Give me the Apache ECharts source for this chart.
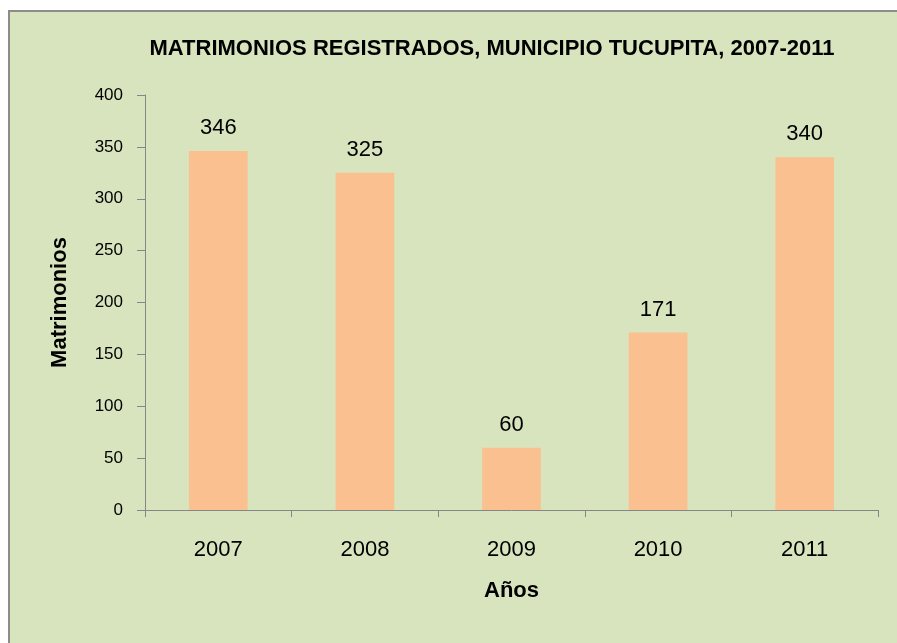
<!DOCTYPE html>
<html>
<head>
<meta charset="utf-8">
<script src="https://cdn.jsdelivr.net/npm/echarts@6/dist/echarts.min.js"></script>
<style>
html,body{margin:0;padding:0;background:#fff;}
#c{width:897px;height:643px;}
</style>
</head>
<body>
<div id="c"></div>
<script>
const categories = ['2007','2008','2009','2010','2011'];
const values = [346, 325, 60, 171, 340];
const yTicks = [0, 400, 50];

const FONT = '"Liberation Sans Narrow","Arial Narrow","Liberation Sans",sans-serif';
const chart = echarts.init(document.getElementById('c'));
chart.setOption({
  animation: false,
  backgroundColor: '#ffffff',
  graphic: [{
    type: 'rect', z: -10, silent: true,
    shape: {x: 9, y: 11, width: 1000, height: 1000},
    style: {fill: '#d7e4bd', stroke: '#8c8c8c', lineWidth: 2}
  }],
  title: {
    text: 'MATRIMONIOS REGISTRADOS, MUNICIPIO TUCUPITA, 2007-2011',
    left: 487, top: 33, textAlign: 'center',
    textStyle: {fontFamily: FONT, fontWeight: 'bold', fontSize: 22, color: '#000'}
  },
  grid: {left: 145, right: 19, top: 95, bottom: 133},
  xAxis: {
    type: 'category', data: categories,
    name: 'Años', nameLocation: 'middle', nameGap: 70,
    nameTextStyle: {fontFamily: FONT, fontWeight: 'bold', fontSize: 22, color: '#000'},
    axisLine: {lineStyle: {color: '#868686', width: 1}},
    axisTick: {show: true, length: 7, lineStyle: {color: '#868686'}},
    axisLabel: {fontFamily: FONT, fontSize: 22, color: '#000', margin: 29}
  },
  yAxis: {
    type: 'value', min: yTicks[0], max: yTicks[1], interval: yTicks[2],
    name: 'Matrimonios', nameLocation: 'middle', nameGap: 74, nameRotate: 90,
    nameTextStyle: {fontFamily: FONT, fontWeight: 'bold', fontSize: 22, color: '#000'},
    axisLine: {show: true, lineStyle: {color: '#868686', width: 1}},
    axisTick: {show: true, length: 8, lineStyle: {color: '#868686'}},
    splitLine: {show: false},
    axisLabel: {fontFamily: FONT, fontSize: 17, color: '#000', margin: 22}
  },
  series: [{
    type: 'bar', data: values, barWidth: '40%',
    itemStyle: {color: '#fac090'},
    label: {show: true, position: 'top', distance: 12, fontFamily: FONT, fontSize: 22, color: '#000'}
  }]
});
</script>
</body>
</html>
